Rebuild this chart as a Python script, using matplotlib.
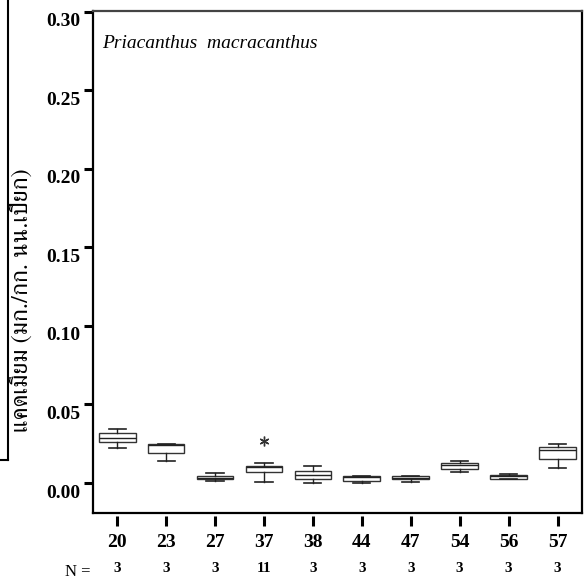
import matplotlib
matplotlib.use('Agg')
import matplotlib.pyplot as plt
from matplotlib import font_manager
from matplotlib.ft2font import FT2Font
from matplotlib.lines import Line2D
import matplotlib.transforms as mtransforms

# ---- data ----
stations = ['20', '23', '27', '37', '38', '44', '47', '54', '56', '57']
n_counts = ['3', '3', '3', '11', '3', '3', '3', '3', '3', '3']
whislo = [0.0225, 0.0142, 0.0011, 0.0006, 0.0000, 0.0000, 0.0006, 0.0070, 0.0024, 0.0098]
q1     = [0.0259, 0.0189, 0.0024, 0.0068, 0.0025, 0.0013, 0.0024, 0.0087, 0.0027, 0.0151]
med    = [0.0289, 0.0244, 0.0033, 0.0105, 0.0051, 0.0040, 0.0034, 0.0113, 0.0043, 0.0210]
q3     = [0.0317, 0.0246, 0.0043, 0.0108, 0.0076, 0.0043, 0.0043, 0.0127, 0.0051, 0.0227]
whishi = [0.0344, 0.0246, 0.0062, 0.0125, 0.0110, 0.0043, 0.0047, 0.0142, 0.0059, 0.0246]
fliers = [[], [], [], [0.027], [], [], [], [], [], []]
yticks = [0.00, 0.05, 0.10, 0.15, 0.20, 0.25, 0.30]
ytick_labels = ['0.00', '0.05', '0.10', '0.15', '0.20', '0.25', '0.30']
title = 'Priacanthus  macracanthus'
ylabel = 'แคดเมียม (มก./กก. นน.เปียก)'


def find_font(ch):
    cands = []
    for f in font_manager.fontManager.ttflist:
        try:
            ft = FT2Font(f.fname)
            if ft.get_char_index(ord(ch)):
                cands.append(f.name)
        except Exception:
            pass
    if not cands:
        return 'DejaVu Sans'
    for c in cands:
        if 'Serif' in c:
            return c
    return cands[0]


thai_font = find_font('ก')
serif = 'Liberation Serif'

W, H = 588, 585
fig = plt.figure(figsize=(W / 100, H / 100), dpi=100)
L, R, T, B = 92.7, 582, 11, 513
ax = fig.add_axes([L / W, 1 - B / H, (R - L) / W, (B - T) / H])

positions = list(range(1, len(stations) + 1))
stats = []
for i in range(len(stations)):
    stats.append(dict(whislo=whislo[i], q1=q1[i], med=med[i], q3=q3[i],
                      whishi=whishi[i], fliers=fliers[i]))

ax.bxp(stats, positions=positions, widths=0.75, capwidths=0.35,
       patch_artist=True, showfliers=True,
       boxprops=dict(facecolor='white', edgecolor='#333333', linewidth=1.0),
       medianprops=dict(color='#222222', linewidth=1.0),
       whiskerprops=dict(color='#222222', linewidth=1.0),
       capprops=dict(color='#222222', linewidth=1.2),
       flierprops=dict(marker=(6, 2, 0), markersize=7, markeredgewidth=1.0,
                       markeredgecolor='#333333', linestyle='none'))

ax.set_xlim(0.5, 10.5)
ax.set_ylim(-0.0191, 0.3006)

for s in ax.spines.values():
    s.set_linewidth(1.6)
    s.set_color('black')
ax.spines['top'].set_color('#444444')

ax.set_yticks(yticks, labels=ytick_labels)
ax.tick_params(axis='y', direction='out', length=6.8, width=2.2, pad=2,
               labelsize=14)
for lab in ax.get_yticklabels():
    lab.set_fontfamily(serif)
    lab.set_fontweight('bold')
    lab.set_transform(lab.get_transform() +
                      mtransforms.ScaledTranslation(0, -8 / 100, fig.dpi_scale_trans))
ax.set_xticks([])

sec = ax.secondary_xaxis(-0.006)
sec.spines['bottom'].set_visible(False)
sec.set_xticks(positions, labels=stations)
sec.tick_params(axis='x', direction='out', length=7.2, width=2.2, pad=6,
                labelsize=14)
for lab in sec.get_xticklabels():
    lab.set_fontfamily(serif)
    lab.set_fontweight('bold')

ytr = ax.get_xaxis_transform()
for p, n in zip(positions, n_counts):
    ax.text(p, (B - 569) / (B - T), n, transform=ytr, ha='center', va='center',
            fontsize=11, fontweight='bold', family=serif, clip_on=False)
fig.text(78 / W, 1 - 572 / H, 'N =', ha='center', va='center', fontsize=12,
         family=serif)

ax.text((102 - L) / (R - L), (B - 43) / (B - T), title, transform=ax.transAxes,
        ha='left', va='center', fontsize=14, style='italic', family=serif)

fig.text(21 / W, 1 - 300 / H, ylabel, rotation=90, ha='center', va='center',
         fontsize=17.5, fontweight='normal', family=[thai_font, 'DejaVu Sans'])

fig.add_artist(Line2D([8 / W, 8 / W], [1, 1 - 460 / H], transform=fig.transFigure,
                      color='black', linewidth=1.5))
fig.add_artist(Line2D([0, 8 / W], [1 - 460 / H, 1 - 460 / H], transform=fig.transFigure,
                      color='black', linewidth=1.5))

fig.savefig('out.png', dpi=100)
